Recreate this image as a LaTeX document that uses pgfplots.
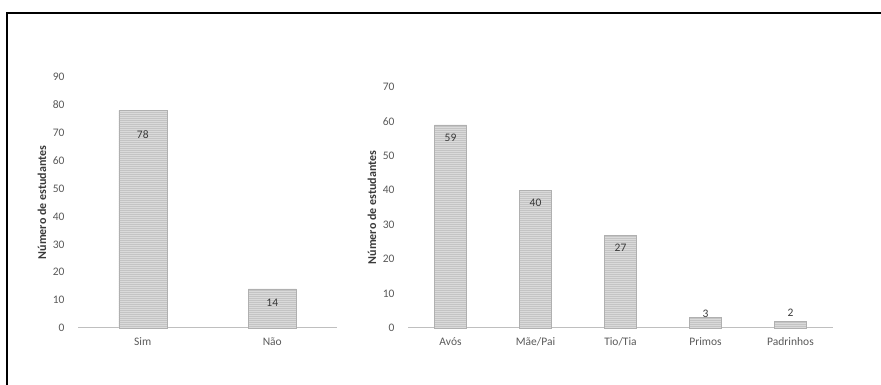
\documentclass[border=0pt]{standalone}
\usepackage{pgfplots}
\pgfplotsset{compat=1.18}
\usepackage{pgfplotstable}
\usepackage{fontspec}
\setmainfont{Carlito}
\usetikzlibrary{patterns.meta}
\definecolor{tickgray}{HTML}{595959}
\definecolor{labgray}{HTML}{3A3A3A}
\definecolor{barfill}{HTML}{C4C4C4}
\definecolor{barline}{HTML}{DADADA}
\definecolor{baredge}{HTML}{B0B0B0}
\definecolor{axisgray}{HTML}{BFBFBF}

\pgfplotstableread{
x y dy
0 78 -24
1 14 -14
}\lefttab
\pgfplotstableread{
x y dy
0 59 -13
1 40 -13
2 27 -13
3 3 4
4 2 8
}\righttab

\pgfplotsset{
  common/.style={
    scale only axis,
    ymin=0,
    axis x line*=bottom,
    axis y line*=left,
    x axis line style={draw=axisgray, line width=1pt},
    y axis line style={draw=none},
    major tick length=0pt,
    xtick=data,
    tick style={draw=none},
    ticklabel style={font=\fontsize{11.5}{13}\selectfont, text=tickgray},
    /pgf/number format/assume math mode=true,
    yticklabel style={xshift=-10pt},
    xticklabel style={yshift=-6pt},
    ylabel={\textbf{Número de estudantes}},
    ylabel style={font=\fontsize{12}{14}\selectfont, text=labgray, anchor=center},
    clip=false,
  },
  mybar/.style={
    ybar,
    fill=barfill,
    draw=baredge,
    line width=0.4pt,
    postaction={pattern={Lines[distance=2pt, angle=0, line width=0.5pt]}, pattern color=barline},
    visualization depends on={\thisrow{dy} \as \dy},
    nodes near coords,
    nodes near coords style={anchor=center, yshift=\dy, font=\fontsize{11.5}{13}\selectfont, text=labgray},
  },
}

\begin{document}
\begin{tikzpicture}
\useasboundingbox (0pt,0pt) rectangle (881pt,385pt);
\draw[line width=2pt] (7pt,-2pt) -- (7pt,372pt) -- (883pt,372pt);

\begin{axis}[common,
  at={(78pt,57pt)}, anchor=south west,
  width=259pt, height=251pt,
  ymax=90, ytick={0,10,...,90},
  xmin=-0.5, xmax=1.5,
  xticklabels={Sim, Não},
  bar width=48pt,
  ylabel style={at={(axis description cs:-0.139,0.5)}},
]
\addplot[mybar] table[x=x, y=y] {\lefttab};
\end{axis}

\begin{axis}[common,
  at={(408pt,57pt)}, anchor=south west,
  width=425pt, height=241pt,
  ymax=70, ytick={0,10,...,70},
  xmin=-0.5, xmax=4.5,
  xticklabels={Avós, Mãe/Pai, Tio/Tia, Primos, Padrinhos},
  bar width=32pt,
  ylabel style={at={(axis description cs:-0.085,0.5)}},
]
\addplot[mybar] table[x=x, y=y] {\righttab};
\end{axis}
\end{tikzpicture}
\end{document}
